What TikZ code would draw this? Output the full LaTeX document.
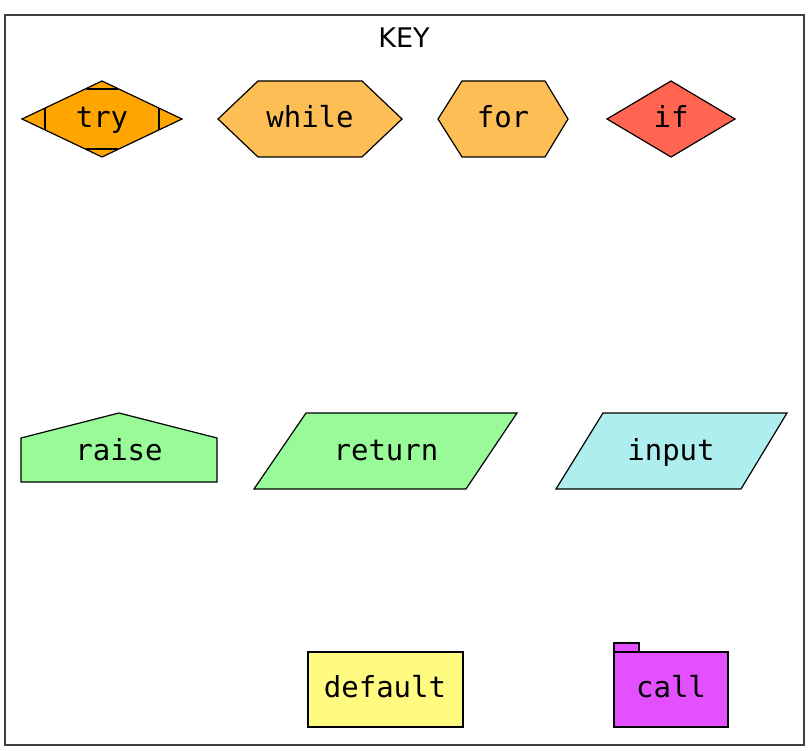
\documentclass[tikz,border=0pt]{standalone}
\usepackage{fontspec}
\setmainfont{DejaVu Sans}
\newfontfamily\codefont{DejaVu Sans Mono}
\usepackage{tikz}
\usetikzlibrary{calc}
\definecolor{tryorange}{HTML}{FFA500}
\definecolor{loopgold}{HTML}{FDBE55}
\definecolor{iftomato}{HTML}{FF6550}
\definecolor{palegreenc}{HTML}{98FB98}
\definecolor{paleturq}{HTML}{AFEEEE}
\definecolor{defyellow}{HTML}{FFFA80}
\definecolor{callmagenta}{HTML}{E250FF}
\tikzset{
  shp/.style={draw=black, line width=1.2pt, line join=miter},
  lbl/.style={font=\codefont\fontsize{29}{32}\selectfont, inner sep=0pt, anchor=base}
}

\begin{document}
\begin{tikzpicture}[x=1pt,y=-1pt]
    \useasboundingbox (0,0) rectangle (811,751);
    % frame of the key
    \draw[line width=1.5pt, black!75] (5,15) rectangle (804,745);
    \node[anchor=base, inner sep=0pt] (key) at (404,48) {\fontsize{27}{30}\selectfont KEY};

    % top row: try, while, for, if
    \filldraw[shp, fill=tryorange] (22,119) -- (102,81) -- (182,119) -- (102,157) -- cycle;
    \draw[shp] (86,89) -- (118,89) (86,149) -- (118,149)
               (45,108) -- (45,130) (159,108) -- (159,130);
    \node[lbl] (try) at (102,128) {try};

    \filldraw[shp, fill=loopgold] (218,119) -- (258,81) -- (362,81) -- (402,119) -- (362,157) -- (258,157) -- cycle;
    \node[lbl] (while) at (310,128) {while};

    \filldraw[shp, fill=loopgold] (438,119) -- (462,81) -- (545,81) -- (568,119) -- (545,157) -- (462,157) -- cycle;
    \node[lbl] (for) at (503,128) {for};

    \filldraw[shp, fill=iftomato] (607,119) -- (671,81) -- (735,119) -- (671,157) -- cycle;
    \node[lbl] (if) at (671,128) {if};

    % middle row: raise, return, input
    \filldraw[shp, fill=palegreenc] (21,482) -- (21,438) -- (119,413) -- (217,438) -- (217,482) -- cycle;
    \node[lbl] (raise) at (119,460) {raise};

    \filldraw[shp, fill=palegreenc] (254,489) -- (306,413) -- (517,413) -- (466,489) -- cycle;
    \node[lbl] (return) at (386,460) {return};

    \filldraw[shp, fill=paleturq] (556,489) -- (603,413) -- (787,413) -- (741,489) -- cycle;
    \node[lbl] (input) at (671,460) {input};

    % bottom row: default, call
    \filldraw[shp, fill=defyellow] (308,652) rectangle (463,727);
    \node[lbl] (default) at (385,697) {default};

    \filldraw[shp, fill=callmagenta] (614,643) rectangle (639,652);
    \filldraw[shp, fill=callmagenta] (614,652) rectangle (728,727);
    \node[lbl] (call) at (671,697) {call};
\end{tikzpicture}
\end{document}
